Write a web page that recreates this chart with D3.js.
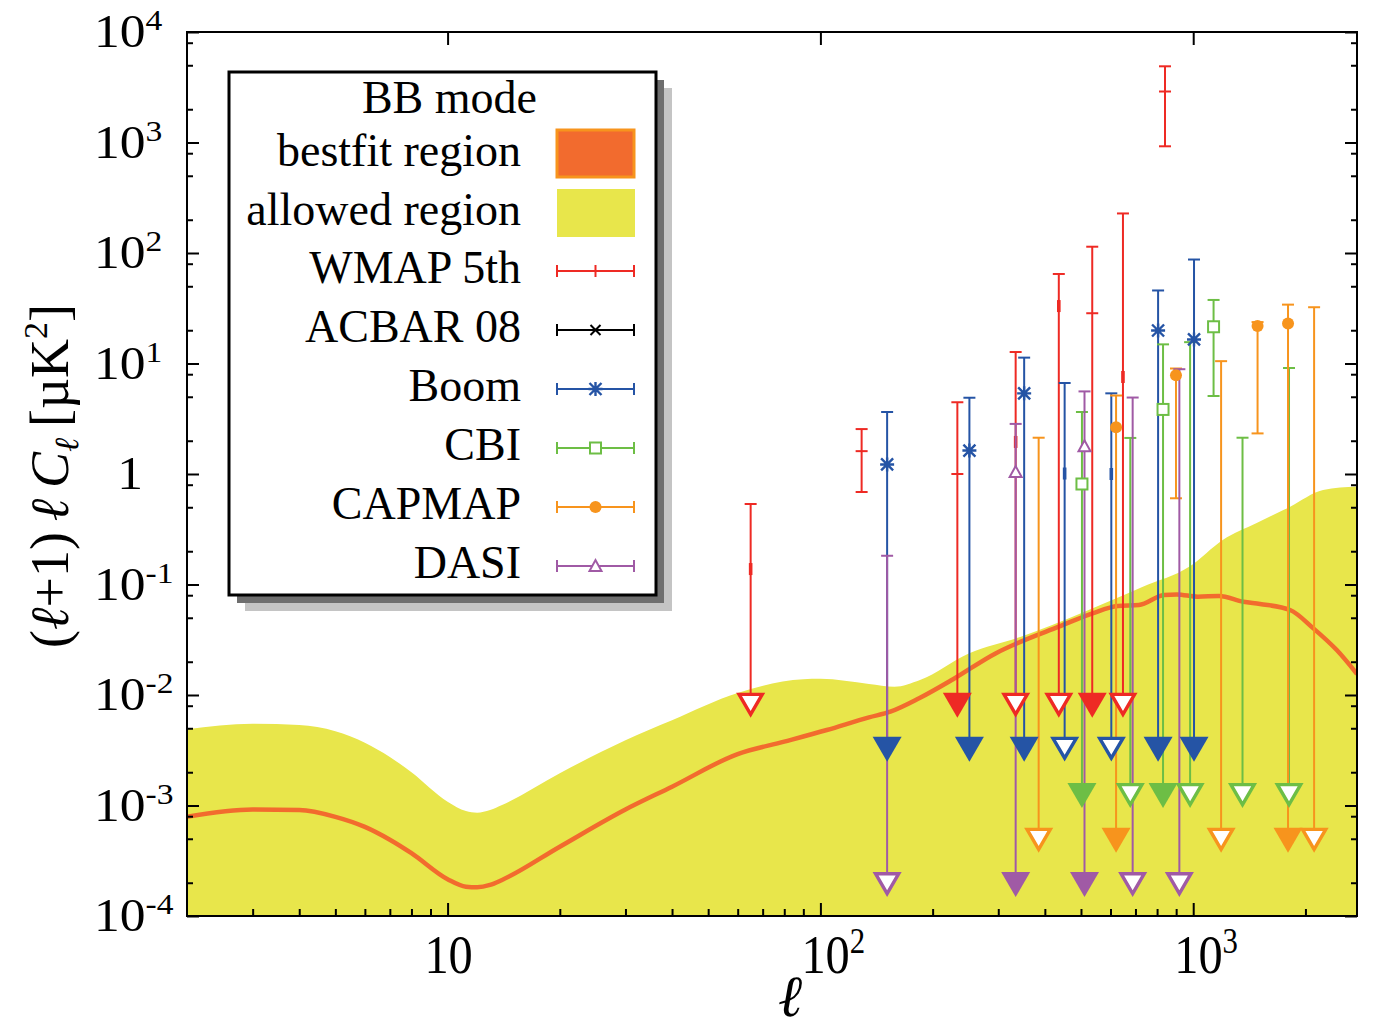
<!DOCTYPE html>
<html lang="en">
<head>
  <meta charset="UTF-8">
  <title>BB mode power spectrum</title>
  <script src="https://d3js.org/d3.v7.min.js"></script>
  <style>
    body { margin: 0; background: #fff; }
    text { font-family: "Liberation Serif", "Times New Roman", serif; fill: #000; }
  </style>
</head>
<body>
<div id="chart"></div>
<script>
// upper edge of the allowed region (it is filled down to the bottom of the plot)
const allowedEll = [2, 3, 4, 5, 6, 7, 8, 10, 11.2, 12, 13, 14, 20, 30, 40, 60, 90, 100, 135, 158, 185, 250, 345, 500, 730, 980, 1200, 1480, 1820, 2230, 2750];
const allowedTop = [4.9e-3, 5.5e-3, 5.35e-3, 4.7e-3, 3.7e-3, 2.75e-3, 2.0e-3, 1.08e-3, 8.9e-4, 8.6e-4, 9.1e-4, 1.01e-3, 1.96e-3, 3.9e-3, 5.9e-3, 1.04e-2, 1.39e-2, 1.4e-2, 1.26e-2, 1.19e-2, 1.37e-2, 2.38e-2, 3.37e-2, 5.5e-2, 9.5e-2, 0.146, 0.253, 0.36, 0.506, 0.716, 0.77];

// best fit curve
const bestfitEll = [2, 3, 4, 5, 6, 7, 8, 10, 11.2, 12, 13, 14, 20, 30, 40, 60, 80, 104, 135, 154, 184, 227, 295, 345, 436, 537, 628, 715, 835, 904, 1029, 1173, 1363, 1511, 1819, 2100, 2427, 2750];
const bestfitVal = [7.9e-4, 9.2e-4, 9.1e-4, 7.9e-4, 6.4e-4, 4.9e-4, 3.7e-4, 2.15e-4, 1.84e-4, 1.82e-4, 1.91e-4, 2.12e-4, 4.24e-4, 9.2e-4, 1.48e-3, 2.92e-3, 3.78e-3, 4.82e-3, 6.28e-3, 7.06e-3, 9.34e-3, 1.39e-2, 2.38e-2, 3.04e-2, 4.15e-2, 5.49e-2, 6.39e-2, 6.52e-2, 8.04e-2, 8.14e-2, 7.76e-2, 7.87e-2, 6.99e-2, 6.66e-2, 5.88e-2, 4.01e-2, 2.55e-2, 1.55e-2];

const seriesNames = ["WMAP 5th", "ACBAR 08", "Boom", "CBI", "CAPMAP", "DASI"];
// where the downward arrows of each data set stop
const arrowLevel = [0.0105, 0.0042, 0.0042, 0.0016, 0.00063, 0.00025];

// val = plotted point, mid = faint central mark, hi / lo = error bar ends (lo null -> arrow down)
const wmapEll = [65, 129, 233, 334, 436, 536, 648, 840];
const wmapVal = [null, 1.61, 1.0, null, null, 28.5, null, 2894];
const wmapMid = [0.138, null, null, 1.95, 33.1, null, 7.55, null];
const wmapHi  = [0.535, 2.55, 4.46, 12.7, 64.6, 114, 228, 4893];
const wmapLo  = [null, 0.687, null, null, null, null, null, 924];

const acbarEll = [];
const acbarVal = [];
const acbarMid = [];
const acbarHi  = [];
const acbarLo  = [];

const boomEll = [151, 251, 352, 452, 603, 805, 1005];
const boomVal = [1.22, 1.63, 5.37, null, null, 19.9, 16.5];
const boomMid = [null, null, null, 1.01, 1.0, null, null];
const boomHi  = [3.64, 4.90, 11.3, 6.66, 5.37, 45.8, 87.3];
const boomLo  = [null, null, null, null, null, null, null];

const cbiEll = [503, 678, 830, 981, 1134, 1356, 1807];
const cbiVal = [0.812, null, 3.84, null, 21.5, null, null];
const cbiMid = [null, null, null, null, null, null, null];
const cbiHi  = [3.64, 2.12, 14.9, 15.6, 37.6, 2.13, 9.10];
const cbiLo  = [null, null, null, null, 5.08, null, null];

const capmapEll = [385, 621, 899, 1188, 1488, 1796, 2110];
const capmapVal = [null, 2.65, 7.82, null, 21.8, 23.0, null];
const capmapMid = [null, null, null, null, null, null, null];
const capmapHi  = [2.13, 5.13, 9.01, 10.5, 23.7, 34.1, 32.3];
const capmapLo  = [null, null, 0.603, null, 2.33, null, null];

const dasiEll = [151, 334, 511, 688, 918];
const dasiVal = [null, 1.04, 1.78, null, null];
const dasiMid = [null, null, null, null, null];
const dasiHi  = [0.182, 2.84, 5.59, 4.92, 8.88];
const dasiLo  = [null, null, null, null, null];

const xTickValues = [10, 100, 1000];
const yTickExps = [-4, -3, -2, -1, 0, 1, 2, 3, 4];

// ---------------------------------------------------------------
const colors = ["#ee2a24", "#000000", "#2554a5", "#6dbe45", "#f7941d", "#a05aa5"];
const kinds = ["tick", "cross", "star", "square", "circle", "tri"];
const yellow = "#e8e64b";
const bestColor = "#f26b2e";

const svg = d3.select("#chart").append("svg")
  .attr("width", 1385)
  .attr("height", 1032);

const plot = { left: 187, right: 1357, top: 32, bottom: 916 };

const xs = d3.scaleLog().domain([2, 2750]).range([plot.left, plot.right]);
const ys = d3.scaleLog().domain([1e-4, 1e4]).range([plot.bottom, plot.top]);

svg.append("defs").append("clipPath").attr("id", "clip")
  .append("rect")
  .attr("x", plot.left).attr("y", plot.top)
  .attr("width", plot.right - plot.left).attr("height", plot.bottom - plot.top);

const inner = svg.append("g").attr("clip-path", "url(#clip)");

// allowed region
const allowed = allowedEll.map((l, i) => [l, allowedTop[i]]);
inner.append("path")
  .datum(allowed)
  .attr("fill", yellow)
  .attr("d", d3.area()
    .x(d => xs(d[0]))
    .y0(plot.bottom)
    .y1(d => ys(d[1]))
    .curve(d3.curveMonotoneX));

// best fit
const bestfit = bestfitEll.map((l, i) => [l, bestfitVal[i]]);
inner.append("path")
  .datum(bestfit)
  .attr("fill", "none")
  .attr("stroke", bestColor)
  .attr("stroke-width", 4.5)
  .attr("d", d3.line()
    .x(d => xs(d[0]))
    .y(d => ys(d[1]))
    .curve(d3.curveMonotoneX));

// data sets
const ells = [wmapEll, acbarEll, boomEll, cbiEll, capmapEll, dasiEll];
const vals = [wmapVal, acbarVal, boomVal, cbiVal, capmapVal, dasiVal];
const mids = [wmapMid, acbarMid, boomMid, cbiMid, capmapMid, dasiMid];
const his  = [wmapHi, acbarHi, boomHi, cbiHi, capmapHi, dasiHi];
const los  = [wmapLo, acbarLo, boomLo, cbiLo, capmapLo, dasiLo];

const series = seriesNames.map((name, i) => ({
  name: name,
  color: colors[i],
  kind: kinds[i],
  arrow: arrowLevel[i],
  pts: ells[i].map((l, j) => ({ ell: l, val: vals[i][j], mid: mids[i][j], hi: his[i][j], lo: los[i][j] }))
}));

function marker(g, kind, x, y, c, horizontal) {
  if (kind === "tick") {
    if (horizontal) {
      g.append("line").attr("x1", x).attr("x2", x).attr("y1", y - 6).attr("y2", y + 6)
        .attr("stroke", c).attr("stroke-width", 2);
    } else {
      g.append("line").attr("x1", x - 6).attr("x2", x + 6).attr("y1", y).attr("y2", y)
        .attr("stroke", c).attr("stroke-width", 2);
    }
  } else if (kind === "cross") {
    g.append("path").attr("d", `M${x - 5},${y - 5}L${x + 5},${y + 5}M${x - 5},${y + 5}L${x + 5},${y - 5}`)
      .attr("stroke", c).attr("stroke-width", 2);
  } else if (kind === "star") {
    g.append("path")
      .attr("d", `M${x - 6},${y - 6}L${x + 6},${y + 6}M${x - 6},${y + 6}L${x + 6},${y - 6}M${x - 7},${y}L${x + 7},${y}M${x},${y - 7}L${x},${y + 7}`)
      .attr("stroke", c).attr("stroke-width", 2.4);
  } else if (kind === "square") {
    g.append("rect").attr("x", x - 5.5).attr("y", y - 5.5).attr("width", 11).attr("height", 11)
      .attr("fill", "#fff").attr("stroke", c).attr("stroke-width", 2);
  } else if (kind === "circle") {
    g.append("circle").attr("cx", x).attr("cy", y).attr("r", 6).attr("fill", c);
  } else if (kind === "tri") {
    g.append("path").attr("d", `M${x - 6},${y + 5}L${x + 6},${y + 5}L${x},${y - 6}Z`)
      .attr("fill", "#fff").attr("stroke", c).attr("stroke-width", 2);
  }
}

const lineLayer = svg.append("g");
const triLayer = svg.append("g");
const markLayer = svg.append("g");
const capW = 6;
const tw = 14.5, th = 25;

series.forEach(s => {
  s.pts.forEach(p => {
    const x = xs(p.ell);
    const yTop = ys(p.hi);
    lineLayer.append("line").attr("x1", x - capW).attr("x2", x + capW).attr("y1", yTop).attr("y2", yTop)
      .attr("stroke", s.color).attr("stroke-width", 2);
    if (p.lo !== null) {
      const yBot = ys(p.lo);
      lineLayer.append("line").attr("x1", x).attr("x2", x).attr("y1", yTop).attr("y2", yBot)
        .attr("stroke", s.color).attr("stroke-width", 2);
      lineLayer.append("line").attr("x1", x - capW).attr("x2", x + capW).attr("y1", yBot).attr("y2", yBot)
        .attr("stroke", s.color).attr("stroke-width", 2);
    } else {
      const yA = ys(s.arrow);
      lineLayer.append("line").attr("x1", x).attr("x2", x).attr("y1", yTop).attr("y2", yA + 4)
        .attr("stroke", s.color).attr("stroke-width", 2);
      if (p.val !== null) {
        triLayer.append("path")
          .attr("d", `M${x - tw},${yA}L${x + tw},${yA}L${x},${yA + th}Z`)
          .attr("fill", s.color);
      } else {
        triLayer.append("path")
          .attr("d", `M${x - tw + 2.9},${yA + 1.7}L${x + tw - 2.9},${yA + 1.7}L${x},${yA + th - 3.4}Z`)
          .attr("fill", "#fff").attr("stroke", s.color).attr("stroke-width", 3.4)
          .attr("stroke-linejoin", "miter");
      }
    }
    if (p.mid !== null) {
      lineLayer.append("rect").attr("x", x - 1.8).attr("y", ys(p.mid) - 6).attr("width", 3.6).attr("height", 12)
        .attr("fill", s.color);
    }
    if (p.val !== null) {
      marker(markLayer, s.kind, x, ys(p.val), s.color, false);
    }
  });
});

// frame and ticks
svg.append("rect")
  .attr("x", plot.left).attr("y", plot.top)
  .attr("width", plot.right - plot.left).attr("height", plot.bottom - plot.top)
  .attr("fill", "none").attr("stroke", "#000").attr("stroke-width", 2);

const minorX = [];
[1, 10, 100, 1000].forEach(d => [2, 3, 4, 5, 6, 7, 8, 9].forEach(m => {
  const v = d * m;
  if (v > 2 && v < 2750 && xTickValues.indexOf(v) < 0) minorX.push(v);
}));
const majorY = yTickExps.map(e => Math.pow(10, e));
const minorY = [];
yTickExps.slice(0, -1).forEach(e => [2, 5, 8].forEach(m => minorY.push(m * Math.pow(10, e))));

function cleanAxis(g) {
  g.select(".domain").remove();
  g.selectAll(".tick line").attr("stroke", "#000").attr("stroke-width", 2);
  g.selectAll(".tick text").remove();
}

svg.append("g").attr("transform", `translate(0,${plot.bottom})`)
  .call(d3.axisBottom(xs).tickValues(xTickValues).tickSize(-13)).call(cleanAxis);
svg.append("g").attr("transform", `translate(0,${plot.bottom})`)
  .call(d3.axisBottom(xs).tickValues(minorX).tickSize(-7)).call(cleanAxis);
svg.append("g").attr("transform", `translate(0,${plot.top})`)
  .call(d3.axisTop(xs).tickValues(xTickValues).tickSize(-13)).call(cleanAxis);

svg.append("g").attr("transform", `translate(${plot.left},0)`)
  .call(d3.axisLeft(ys).tickValues(majorY).tickSize(-12)).call(cleanAxis);
svg.append("g").attr("transform", `translate(${plot.left},0)`)
  .call(d3.axisLeft(ys).tickValues(minorY).tickSize(-6)).call(cleanAxis);
svg.append("g").attr("transform", `translate(${plot.right},0)`)
  .call(d3.axisRight(ys).tickValues(majorY).tickSize(-12)).call(cleanAxis);
svg.append("g").attr("transform", `translate(${plot.right},0)`)
  .call(d3.axisRight(ys).tickValues(minorY).tickSize(-6)).call(cleanAxis);

// y tick labels
yTickExps.forEach(e => {
  const y = ys(Math.pow(10, e));
  if (e === 0) {
    svg.append("text")
      .attr("transform", `translate(130,${y + 15}) scale(1.12,1)`)
      .attr("text-anchor", "middle")
      .style("font-size", "46px")
      .text("1");
  } else {
    const t = svg.append("text")
      .attr("transform", `translate(94,${y + 15}) scale(1.12,1)`)
      .style("font-size", "46px");
    t.append("tspan").text("10");
    t.append("tspan").attr("dy", -17).style("font-size", "30px").text(String(e));
  }
});

// x tick labels
xTickValues.forEach(v => {
  const x = xs(v);
  const e = Math.round(Math.log10(v));
  if (e === 1) {
    svg.append("text")
      .attr("transform", `translate(${x + 1},973) scale(0.88,1)`)
      .attr("text-anchor", "middle")
      .style("font-size", "55px")
      .text("10");
  } else {
    const t = svg.append("text")
      .attr("transform", `translate(${x - 19},973) scale(0.88,1)`)
      .style("font-size", "55px");
    t.append("tspan").text("10");
    t.append("tspan").attr("dy", -20).style("font-size", "35px").text(String(e));
  }
});

// axis titles
svg.append("text")
  .attr("x", 790).attr("y", 1016)
  .attr("text-anchor", "middle")
  .style("font-size", "58px").style("font-style", "italic")
  .text("\u2113");

const yTitle = svg.append("text")
  .attr("transform", "translate(68,476) rotate(-90)")
  .attr("text-anchor", "middle")
  .style("font-size", "54px");
yTitle.append("tspan").text("(");
yTitle.append("tspan").style("font-style", "italic").text("\u2113");
yTitle.append("tspan").text("+1)\u2009");
yTitle.append("tspan").style("font-style", "italic").text("\u2113\u2009C");
yTitle.append("tspan").attr("dy", 10).style("font-size", "34px").style("font-style", "italic").text("\u2113");
yTitle.append("tspan").attr("dy", -10).text("\u2009[\u00b5K");
yTitle.append("tspan").attr("dy", -21).style("font-size", "34px").text("2");
yTitle.append("tspan").attr("dy", 21).text("]");

// legend
const lg = svg.append("g");
lg.append("rect").attr("x", 245).attr("y", 88).attr("width", 427).attr("height", 523).attr("fill", "#c4c4c4");
lg.append("rect").attr("x", 237).attr("y", 80).attr("width", 427).attr("height", 523).attr("fill", "#6e6e6e");
lg.append("rect").attr("x", 229).attr("y", 72).attr("width", 427).attr("height", 523)
  .attr("fill", "#fff").attr("stroke", "#000").attr("stroke-width", 3);

lg.append("text").attr("x", 537).attr("y", 113).attr("text-anchor", "end")
  .style("font-size", "46px").text("BB mode");
lg.append("text").attr("x", 521).attr("y", 166).attr("text-anchor", "end")
  .style("font-size", "46px").text("bestfit region");
lg.append("rect").attr("x", 557).attr("y", 130).attr("width", 77).attr("height", 47)
  .attr("fill", bestColor).attr("stroke", "#f7941d").attr("stroke-width", 3);
lg.append("text").attr("x", 521).attr("y", 225).attr("text-anchor", "end")
  .style("font-size", "46px").text("allowed region");
lg.append("rect").attr("x", 557).attr("y", 189).attr("width", 78).attr("height", 48)
  .attr("fill", yellow);

series.forEach((s, i) => {
  const base = 283 + i * 59;
  const y = base - 12;
  lg.append("text").attr("x", 521).attr("y", base).attr("text-anchor", "end")
    .style("font-size", "46px").text(s.name);
  lg.append("line").attr("x1", 557).attr("x2", 634).attr("y1", y).attr("y2", y)
    .attr("stroke", s.color).attr("stroke-width", 2);
  [557, 634].forEach(cx => {
    lg.append("line").attr("x1", cx).attr("x2", cx).attr("y1", y - 6).attr("y2", y + 6)
      .attr("stroke", s.color).attr("stroke-width", 2);
  });
  marker(lg, s.kind, 595.5, y, s.color, true);
});
</script>
</body>
</html>
